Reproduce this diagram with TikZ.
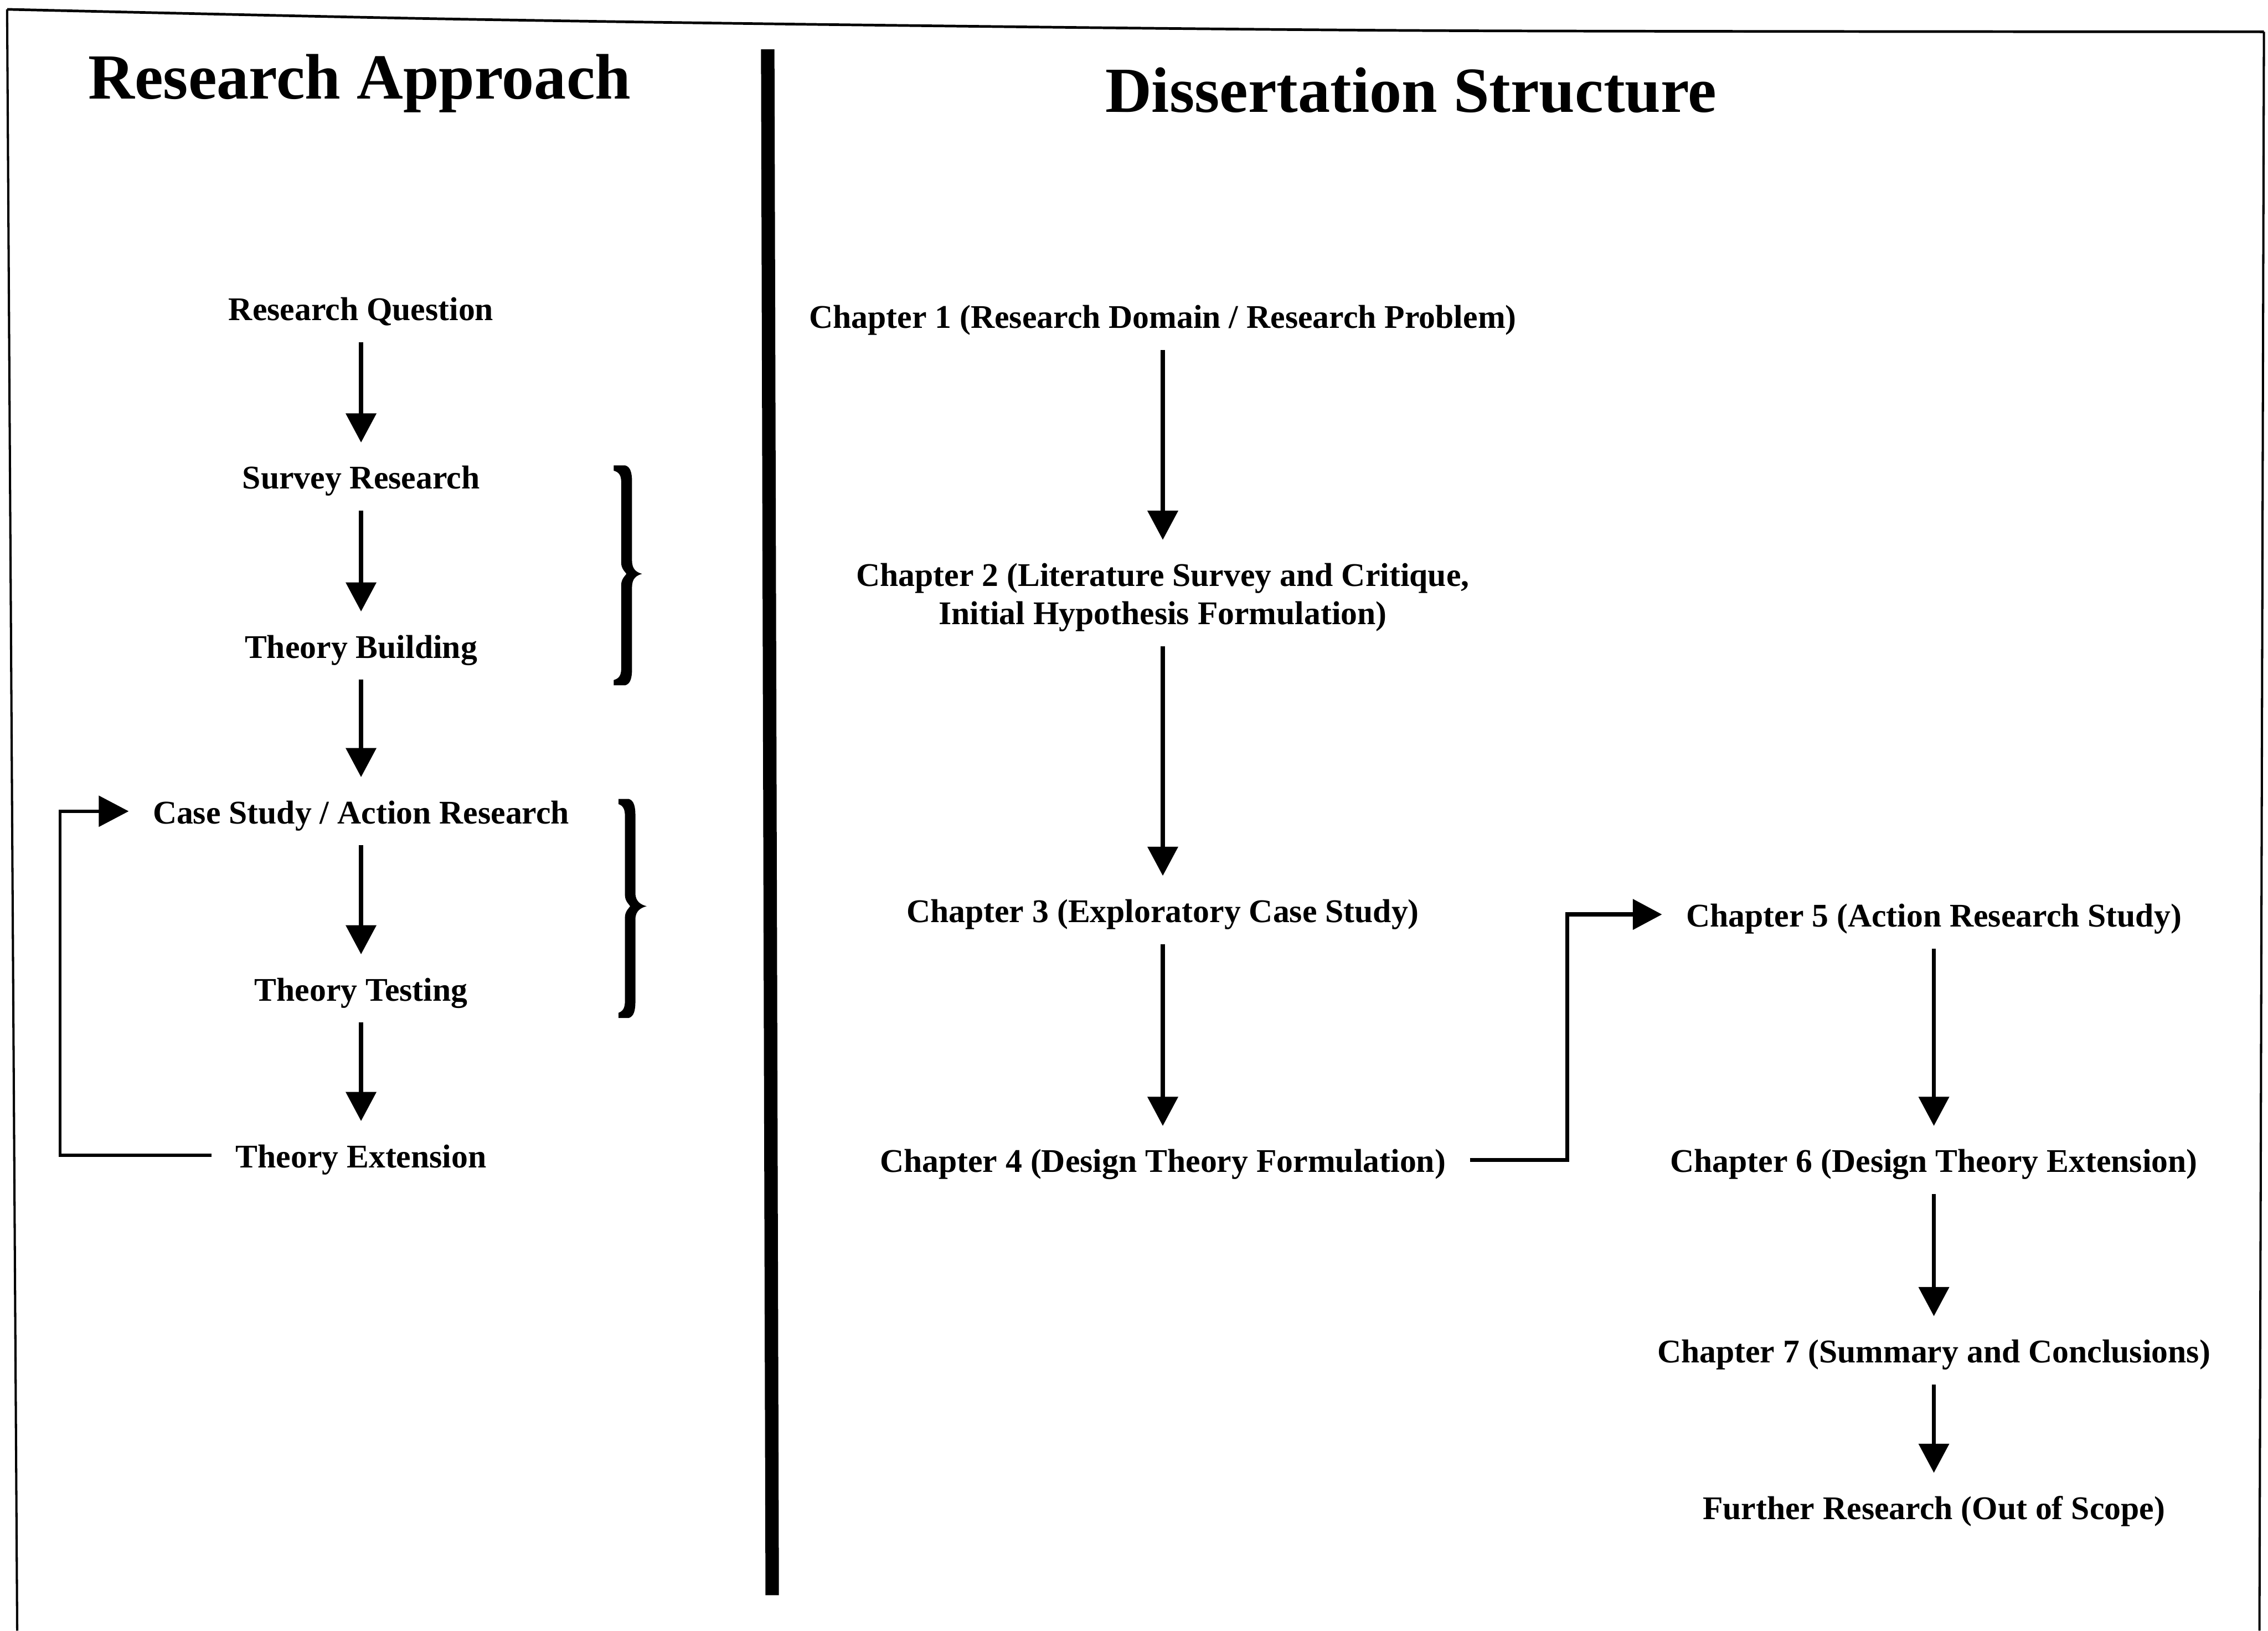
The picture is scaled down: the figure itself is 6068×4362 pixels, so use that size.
\documentclass[tikz,border=0pt]{standalone}
\usepackage{fontspec}
\setmainfont{Liberation Serif}
\usetikzlibrary{arrows.meta}

% filled curly brace: left hook x, body left, body right, tip x, top y, middle y, bottom y
\newcommand{\drawbrace}[7]{%
  \fill (#1,#5) -- ({#3-18},#5) .. controls ({#3-4},{#5+4}) and (#3,{#5+20}) .. (#3,{#5+45})
    -- (#3,{#6-35}) .. controls (#3,{#6-12}) and ({#4-15},{#6-4}) .. (#4,#6)
    .. controls ({#4-15},{#6+4}) and (#3,{#6+12}) .. (#3,{#6+35})
    -- (#3,{#7-45}) .. controls (#3,{#7-20}) and ({#3-4},{#7-4}) .. ({#3-18},#7)
    -- (#1,#7) -- (#1,{#7-14}) .. controls ({#2-6},{#7-18}) and (#2,{#7-26}) .. (#2,{#7-45})
    -- (#2,{#6+30}) .. controls (#2,{#6+14}) and ({#2+10},{#6+6}) .. ({#2+14},#6)
    .. controls ({#2+10},{#6-6}) and (#2,{#6-14}) .. (#2,{#6-30})
    -- (#2,{#5+45}) .. controls (#2,{#5+26}) and ({#2-6},{#5+18}) .. (#1,{#5+14}) -- cycle;
}

\tikzset{
  stagebase/.style={font=\fontsize{12.6}{14.6}\selectfont\bfseries, inner xsep=9pt, inner ysep=5pt},
  stage/.style={stagebase, text height=12.5pt, text depth=3.1pt, anchor=base},
  stagetwo/.style={stagebase, align=center, anchor=north},
  heading/.style={font=\fontsize{24.5}{29}\selectfont\bfseries, inner sep=0pt, anchor=base},
  arr/.style={line width=0.055cm, -{Triangle[length=0.39cm,width=0.4cm]}},
  looparr/.style={line width=0.04cm, -{Triangle[length=0.4cm,width=0.41cm]}},
  borderline/.style={line width=0.03cm},
  divider/.style={line width=0.18cm},
}

\begin{document}
\begin{tikzpicture}[x=0.005cm, y=-0.005cm]
\useasboundingbox (0,0) rectangle (6068,4362);

% outer frame (open at the bottom) and the column divider
\draw[borderline, line width=0.035cm] plot[smooth] coordinates
  {(19,25) (1161,50) (2322,67) (3870,82) (6057,85)};
\draw[borderline] (19,25) -- (46,4362);
\draw[borderline] (6057,85) -- (6045,4362);
\draw[divider] (2054,132) -- (2066,4267);

% headings
\node[heading] (titleA) at (962,265) {Research Approach};
\node[heading] (titleB) at (3775,300) {Dissertation Structure};

% research approach column
\node[stage] (rq) at (966,857)  {Research Question};
\node[stage] (sr) at (966,1308) {Survey Research};
\node[stage] (tb) at (966,1760) {Theory Building};
\node[stage] (cs) at (966,2203) {Case Study / Action Research};
\node[stage] (tt) at (966,2677) {Theory Testing};
\node[stage] (te) at (966,3123) {Theory Extension};

\draw[arr] (rq) -- (sr);
\draw[arr] (sr) -- (tb);
\draw[arr] (tb) -- (cs);
\draw[arr] (cs) -- (tt);
\draw[arr] (tt) -- (te);

\coordinate (loopx) at (161,0);
\draw[looparr] (te.west) -- (te.west -| loopx) |- (cs.west);

\drawbrace{1642}{1662}{1691}{1718}{1245}{1535}{1833}
\drawbrace{1655}{1672}{1700}{1730}{2137}{2424}{2723}

% dissertation structure column
\node[stage] (ch1) at (3111,878) {Chapter 1 (Research Domain / Research Problem)};
\node[stagetwo] (ch2) at (3111,1444) {\rule{0pt}{12.5pt}Chapter 2 (Literature Survey and Critique,\\
  \rule[-3.1pt]{0pt}{3.1pt}Initial Hypothesis Formulation)};
\node[stage] (ch3) at (3111,2467) {Chapter 3 (Exploratory Case Study)};
\node[stage] (ch4) at (3111,3136) {Chapter 4 (Design Theory Formulation)};
\node[stage] (ch5) at (5174,2479) {Chapter 5 (Action Research Study)};
\node[stage] (ch6) at (5174,3136) {Chapter 6 (Design Theory Extension)};
\node[stage] (ch7) at (5174,3645) {Chapter 7 (Summary and Conclusions)};
\node[stage] (fr)  at (5174,4064) {Further Research (Out of Scope)};

\draw[arr] (ch1) -- (ch2);
\draw[arr] (ch2) -- (ch3);
\draw[arr] (ch3) -- (ch4);
\coordinate (jogx) at (4193,0);
\draw[arr] (ch4.east) -- (ch4.east -| jogx) |- (ch5.west);
\draw[arr] (ch5) -- (ch6);
\draw[arr] (ch6) -- (ch7);
\draw[arr] (ch7) -- (fr);
\end{tikzpicture}
\end{document}
